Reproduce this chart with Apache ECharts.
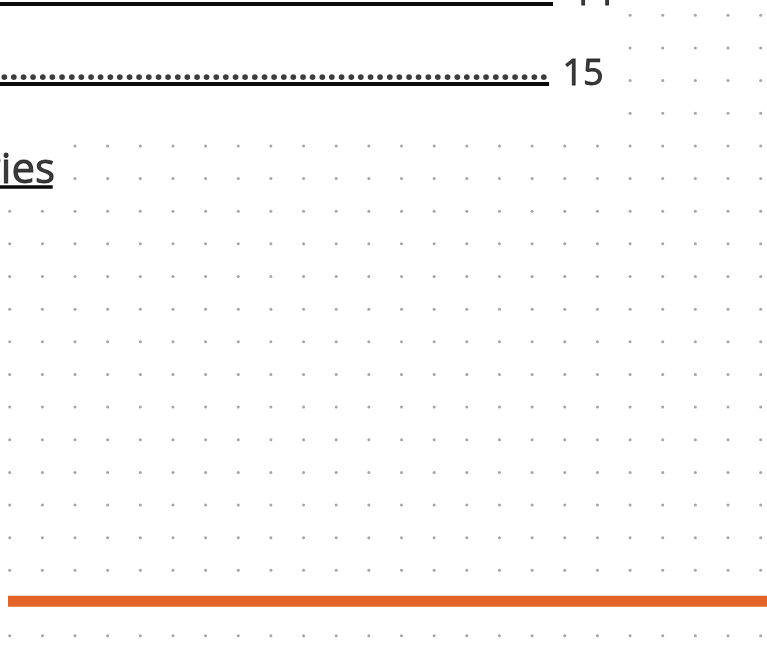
<!DOCTYPE html>
<html>
<head>
<meta charset="utf-8">
<script src="https://cdn.jsdelivr.net/npm/echarts@6/dist/echarts.min.js"></script>
<style>
  html, body { margin: 0; padding: 0; background: #fff; }
  #page { width: 767px; height: 665px; }
</style>
</head>
<body>
<div id="page"></div>
<script>
  // page is measured in dot-grid units (1 unit = distance between two grid dots)
  // dot grid: first visible column of each row (rows 0..19), last column is 23
  var dotRows = [0, 1, 2, 3, 4, 5, 6, 7, 8, 9, 10, 11, 12, 13, 14, 15, 16, 17, 18, 19];
  var dotRowStart = [19, 19, 19, 19, 2, 2, 0, 0, 0, 0, 0, 0, 0, 0, 0, 0, 0, 0, 0, 0];
  var dotLastCol = 23;

  // table of contents entries (page numbers) and the heading fragment
  var tocPages = ['14', '15'];
  var headingText = 'ries';
  var leader = '......................................................................';

  // layout of the entries (grid units)
  var tocRowY = [-0.778, 1.672];     // leader dots
  var tocLeaderEnd = [16.63, 16.51];
  var tocUnderY = [-0.346, 2.104];
  var tocUnderEnd = [16.64, 16.52];
  var tocPageX = [17.22, 16.93];
  var tocPageY = [-0.616, 1.835];

  var xMin = -0.297, xMax = 23.194;
  var yMin = -0.469, yMax = 19.899;

  var dots = [];
  for (var r = 0; r < dotRows.length; r++) {
    for (var c = dotRowStart[r]; c <= dotLastCol; c++) {
      dots.push([c, dotRows[r]]);
    }
  }

  var ink = '#0d0b0c';

  function textPoint(x, y, text, align, style) {
    return {
      value: [x, y],
      label: Object.assign({
        show: true,
        position: [0, 0],
        align: align,
        verticalAlign: 'middle',
        color: ink,
        formatter: text
      }, style)
    };
  }

  // a thin border in the text colour gives the slightly heavier print look
  var pageStyle = { fontFamily: 'Open Sans', fontSize: 36, lineHeight: 44, textBorderColor: ink, textBorderWidth: 0.9 };
  var leaderStyle = { fontFamily: 'Open Sans', fontWeight: 'bold', fontSize: 33.8, lineHeight: 40 };
  var headStyle = { fontFamily: 'Open Sans', fontSize: 42, lineHeight: 50, textBorderColor: ink, textBorderWidth: 0.9 };

  var texts = [];
  for (var i = 0; i < tocPages.length; i++) {
    texts.push(textPoint(tocLeaderEnd[i], tocRowY[i], leader, 'right', leaderStyle));
    texts.push(textPoint(tocPageX[i], tocPageY[i], tocPages[i], 'left', pageStyle));
  }
  texts.push(textPoint(1.387, 4.781, headingText, 'right', headStyle));

  var series = [{
    type: 'scatter',
    data: dots,
    symbol: 'circle',
    symbolSize: 3,
    itemStyle: { color: '#8f8f8f' },
    silent: true,
    z: 1
  }];

  // underlines of the linked entries
  for (var j = 0; j < tocPages.length; j++) {
    series.push({
      type: 'line',
      data: [[xMin - 1, tocUnderY[j]], [tocUnderEnd[j], tocUnderY[j]]],
      symbol: 'none',
      lineStyle: { color: ink, width: 3.8, cap: 'butt' },
      silent: true,
      z: 3
    });
  }
  series.push({
    type: 'line',
    data: [[xMin - 1, 5.259], [1.317, 5.259]],
    symbol: 'none',
    lineStyle: { color: ink, width: 3.4, cap: 'butt' },
    silent: true,
    z: 3
  });

  // orange rule near the bottom
  series.push({
    type: 'line',
    data: [[-0.052, 17.945], [xMax + 1, 17.945]],
    symbol: 'none',
    lineStyle: { color: '#e26527', width: 11, cap: 'butt' },
    silent: true,
    z: 4
  });

  series.push({
    type: 'scatter',
    data: texts,
    symbolSize: 0,
    clip: false,
    silent: true,
    z: 5
  });

  var chart = echarts.init(document.getElementById('page'));
  chart.setOption({
    animation: false,
    backgroundColor: '#ffffff',
    grid: { left: 0, right: 0, top: 0, bottom: 0, containLabel: false },
    xAxis: {
      type: 'value', min: xMin, max: xMax, show: false,
      splitLine: { show: false }
    },
    yAxis: {
      type: 'value', min: yMin, max: yMax, inverse: true, show: false,
      splitLine: { show: false }
    },
    series: series
  });
</script>
</body>
</html>
